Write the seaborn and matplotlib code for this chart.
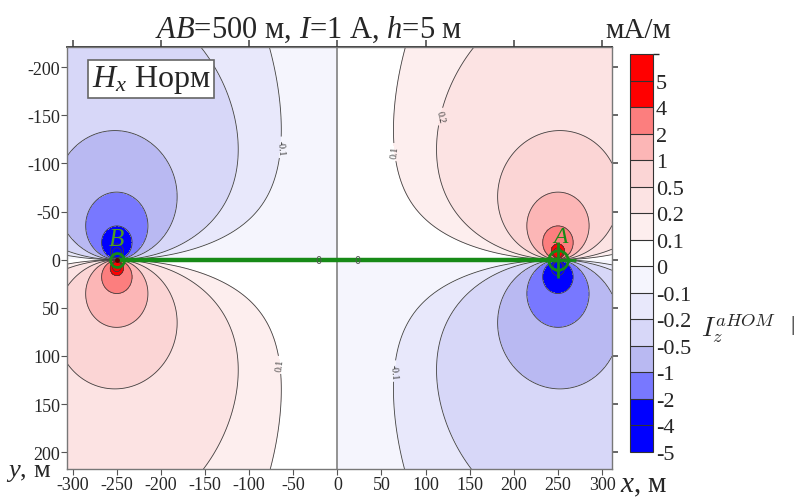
import numpy as np
import matplotlib
matplotlib.use("Agg")
import matplotlib.pyplot as plt
import matplotlib.colors as mcolors
import seaborn as sns

# Survey parameters (from the title)
line_length = 500.0          # AB, m
current_a = 1.0              # I, A
height_m = 5.0               # h, m
electrode_x = [-250.0, 250.0]   # B, A
electrode_sign = [1.0, -1.0]
field_scale = 72.0           # mA*m

# Contour levels and band colours (bottom to top)
levels = [-5, -4, -2, -1, -0.5, -0.2, -0.1, 0, 0.1, 0.2, 0.5, 1, 2, 4, 5]
level_labels = ["-5", "-4", "-2", "-1", "-0.5", "-0.2", "-0.1", "0",
                "0.1", "0.2", "0.5", "1", "2", "4", "5"]
band_colors = ["#0000ff", "#0000ff", "#7878ff", "#b9b9f2", "#d7d7f8",
               "#e8e8fb", "#f5f5fd", "#ffffff", "#fdeeee", "#fce3e3",
               "#fbd5d5", "#fcb6b6", "#fc7e7e", "#ff0000", "#ff0000"]

# Where the isoline labels sit
labelled_levels = [-0.1, 0.1, 0.2]
label_points = [(-67, -117), (57, -111), (106, -151), (-63, 109), (57, 115)]
label_text = {-0.1: "-0.1", 0.1: "0.1", 0.2: "0.2"}

x_ticks = list(range(-300, 301, 50))
y_ticks = list(range(-200, 201, 50))

sns.set_theme(style="white")
plt.rcParams["font.family"] = ["Liberation Serif", "DejaVu Serif"]
plt.rcParams["mathtext.fontset"] = "custom"
plt.rcParams["mathtext.rm"] = "Liberation Serif"
plt.rcParams["mathtext.it"] = "Liberation Serif:italic"
plt.rcParams["axes.unicode_minus"] = False

# Field grid: Hx of the two grounded electrodes
gx = np.linspace(-306.75, 311.25, 1237)
gy = np.linspace(-221.25, 217.75, 879)
X, Y = np.meshgrid(gx, gy)
Hx = np.zeros_like(X)
for ex, s in zip(electrode_x, electrode_sign):
    Hx += s * field_scale * current_a * Y / ((X - ex) ** 2 + Y ** 2 + height_m ** 2)

fig = plt.figure(figsize=(7.96, 5.02), dpi=100)
ax = fig.add_axes([67 / 796, 32 / 502, 545 / 796, 422 / 502])

fill_levels = [-1e6] + levels[1:] + [1e6]
ax.contourf(X, Y, Hx, levels=fill_levels, colors=band_colors)
plain_levels = [l for l in levels if l != 0 and l not in labelled_levels]
ax.contour(X, Y, Hx, levels=plain_levels, colors="#404040", linewidths=0.6,
           linestyles="solid")
lab_lines = ax.contour(X, Y, Hx, levels=labelled_levels, colors="#404040",
                       linewidths=0.6, linestyles="solid")
ax.clabel(lab_lines, manual=label_points, fmt=label_text, fontsize=7,
          inline=True, inline_spacing=3, colors="#333333")
ax.axvline(0, color="#8a8a8a", lw=1.3)
for zx in [-22, 23]:
    ax.text(zx, 0, "0", fontsize=7, color="#555555", ha="center", va="center",
            family="DejaVu Sans")

# Line AB and the electrodes
ax.plot(electrode_x, [0, 0], color="#178a17", lw=3.2, solid_capstyle="butt")
ax.plot([electrode_x[0]], [0], marker="o", ms=10, mfc="none", mec="#178a17", mew=2)
ax.plot([electrode_x[0]], [0], marker=".", ms=5, color="#5a0000")
ax.plot([electrode_x[1]], [0], marker="o", ms=14, mfc="none", mec="#178a17", mew=2)
ax.plot([electrode_x[1]], [0], marker="+", ms=26, mec="#178a17", mew=2)
ax.text(electrode_x[0] - 1, -22, "B", color="#4f9e22", fontsize=18,
        style="italic", ha="center", va="center")
ax.text(electrode_x[1] + 3, -24, "A", color="#178a17", fontsize=17,
        style="italic", ha="center", va="center")

ax.set_xlim(-306.5, 311.3)
ax.set_ylim(217.4, -221)
ax.set_xticks(x_ticks)
ax.set_yticks(y_ticks)
ax.tick_params(axis="both", labelsize=13, direction="out", length=4,
               width=0.8, color="#555555", pad=1, bottom=True, left=True)
for sp in ax.spines.values():
    sp.set_color("#777777")
    sp.set_linewidth(1.0)

top = ax.secondary_xaxis("top")
top.set_xticks(list(range(-300, 301, 100)))
top.set_xticklabels([])
top.tick_params(direction="out", length=5, color="#555555")
right = ax.secondary_yaxis("right")
right.set_yticks(y_ticks)
right.set_yticklabels([])
right.tick_params(direction="out", length=4, color="#555555")

ax.text(0.045, 0.962, r"$H_x$ Норм", transform=ax.transAxes, fontsize=23,
        va="top", ha="left",
        bbox=dict(boxstyle="square,pad=0.1", fc="white", ec="#666666", lw=1.2))

# Colour scale with equal boxes
cax = fig.add_axes([630 / 796, 49 / 502, 23 / 796, 398 / 502])
bounds = levels + [6]
cmap = mcolors.ListedColormap(band_colors)
norm = mcolors.BoundaryNorm(bounds, cmap.N)
sm = plt.cm.ScalarMappable(norm=norm, cmap=cmap)
cb = fig.colorbar(sm, cax=cax, spacing="uniform", drawedges=True,
                  ticks=levels)
cb.ax.set_yticklabels(level_labels)
cb.ax.tick_params(length=0, labelsize=16, pad=2)
cb.outline.set_edgecolor("#333333")
cb.outline.set_linewidth(0.8)
cb.dividers.set_color("#333333")
cb.dividers.set_linewidth(0.8)

fig.text(0.388, 0.924, r"$AB$=500 м, $I$=1 А, $h$=5 м", fontsize=22,
         ha="center", va="baseline")
fig.text(0.802, 0.924, "мА/м", fontsize=21, ha="center", va="baseline")
fig.text(0.008, 0.058, r"$y$, м", fontsize=19, ha="left", va="center")
fig.text(0.779, 0.032, r"$x$, м", fontsize=21, ha="left", va="center")
fig.text(0.881, 0.347, r"$I_z^{aHOM}$", fontsize=19, ha="left", va="center",
         math_fontfamily="cm")
fig.text(0.996, 0.352, "|", fontsize=16, ha="center", va="center")

fig.savefig("out.png", dpi=100)
